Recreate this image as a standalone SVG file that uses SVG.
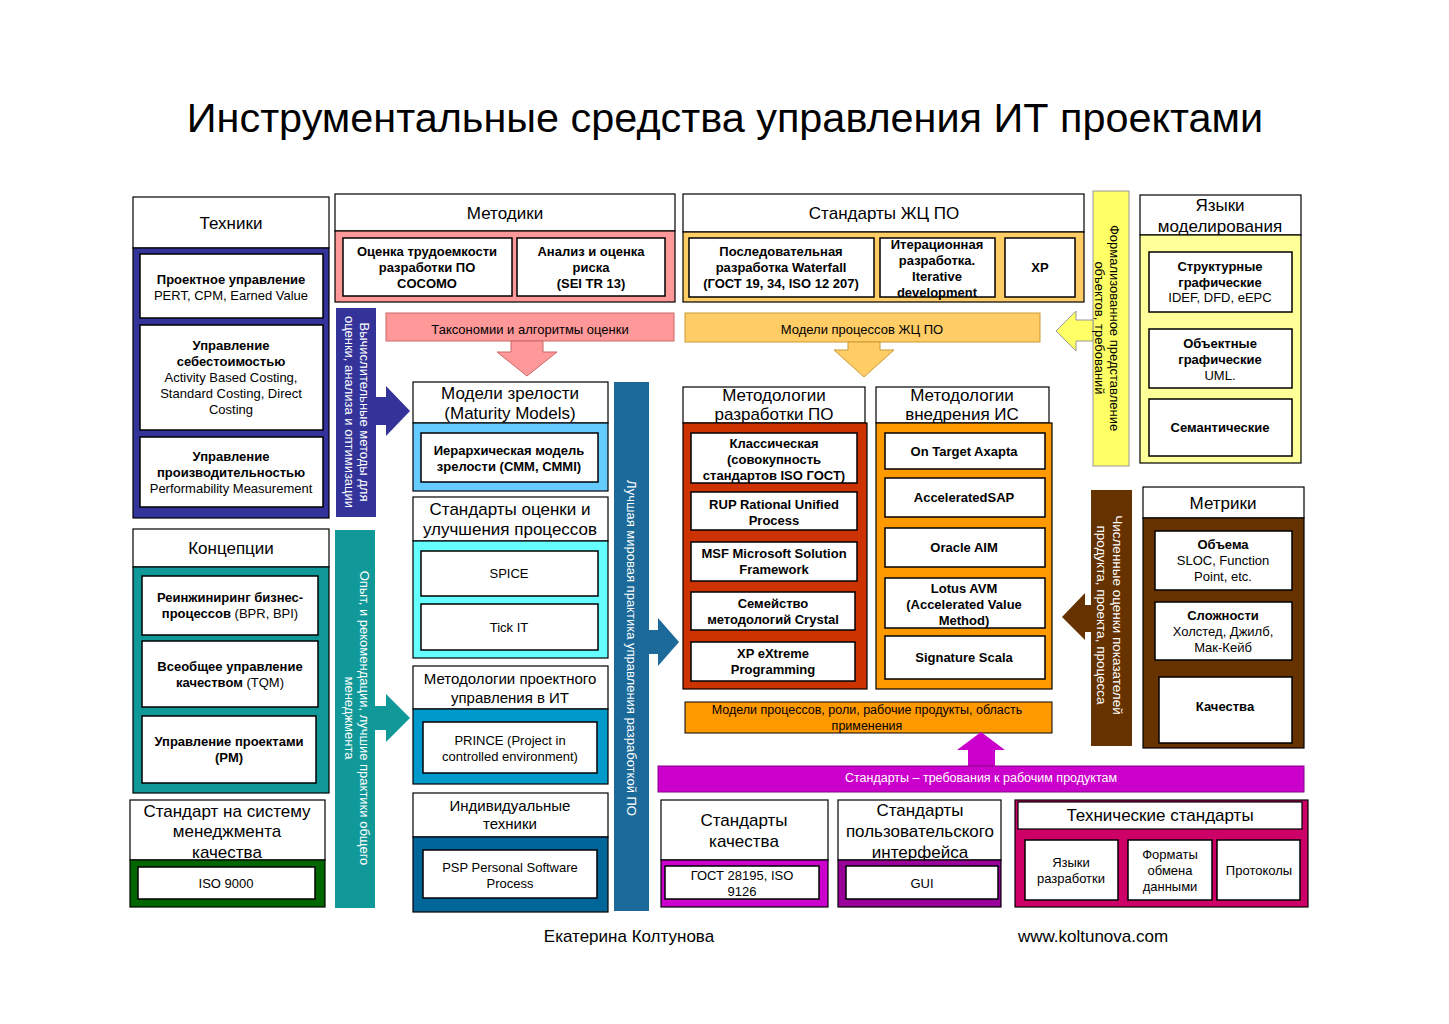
<svg xmlns="http://www.w3.org/2000/svg" width="1449" height="1024" viewBox="0 0 1449 1024">
<style>
text{font-family:"Liberation Sans",Arial,"DejaVu Sans",sans-serif;text-anchor:middle;fill:#000}
.hd{fill:#fff;stroke:#000;stroke-width:1.2}
.bx{fill:#fff;stroke:#000;stroke-width:1.5}
.fr{stroke:#000;stroke-width:1.2}
.h{font-size:17px}
.m{font-size:15px}
.s{font-size:13px}
.xs{font-size:12.5px}
.b{font-weight:bold}
.w{fill:#fff}
.ft{font-size:17px}
</style>
<rect width="1449" height="1024" fill="#fff"/>
<text x="725" y="132" style="font-size:41.4px">Инструментальные средства управления ИТ проектами</text>

<g id="tehniki">
<rect class="hd" x="133" y="197" width="196" height="51"/>
<rect class="fr" x="133" y="248" width="196" height="270" fill="#333399"/>
<text class="h" x="231" y="229">Техники</text>
<rect class="bx" x="140" y="254" width="183" height="64"/>
<text class="s" x="231" y="284"><tspan class="b">Проектное управление</tspan><tspan x="231" dy="16">PERT, CPM, Earned Value</tspan></text>
<rect class="bx" x="140" y="325" width="183" height="105"/>
<text class="s" x="231" y="350"><tspan class="b">Управление</tspan><tspan class="b" x="231" dy="16">себестоимостью</tspan><tspan x="231" dy="16">Activity Based Costing,</tspan><tspan x="231" dy="16">Standard Costing, Direct</tspan><tspan x="231" dy="16">Costing</tspan></text>
<rect class="bx" x="140" y="437" width="183" height="70"/>
<text class="s" x="231" y="461"><tspan class="b">Управление</tspan><tspan class="b" x="231" dy="16">производительностью</tspan><tspan x="231" dy="16">Performability Measurement</tspan></text>
</g>

<g id="koncepcii">
<rect class="hd" x="133" y="529" width="196" height="38"/>
<rect class="fr" x="133" y="567" width="196" height="226" fill="#119999"/>
<text class="h" x="231" y="554">Концепции</text>
<rect class="bx" x="142" y="576" width="176" height="59"/>
<text class="s" x="230" y="602"><tspan class="b">Реинжиниринг бизнес-</tspan><tspan x="230" dy="16"><tspan class="b">процессов</tspan> (BPR, BPI)</tspan></text>
<rect class="bx" x="142" y="641" width="176" height="66"/>
<text class="s" x="230" y="671"><tspan class="b">Всеобщее управление</tspan><tspan x="230" dy="16"><tspan class="b">качеством</tspan> (TQM)</tspan></text>
<rect class="bx" x="142" y="716" width="174" height="67"/>
<text class="s b" x="229" y="746">Управление проектами<tspan x="229" dy="16">(PM)</tspan></text>
</g>

<g id="iso">
<rect class="hd" x="130" y="800" width="195" height="60"/>
<rect class="fr" x="130" y="860" width="195" height="47" fill="#006600"/>
<text class="h" x="227" y="817">Стандарт на систему<tspan x="227" dy="20">менеджмента</tspan><tspan x="227" dy="21">качества</tspan></text>
<rect class="bx" x="138" y="867" width="177" height="32"/>
<text class="s" x="226" y="888">ISO 9000</text>
</g>

<g id="metodiki">
<rect class="hd" x="335" y="194" width="340" height="37"/>
<rect class="fr" x="335" y="231" width="340" height="71" fill="#ff9999"/>
<text class="h" x="505" y="219">Методики</text>
<rect class="bx" x="343" y="238" width="169" height="58"/>
<text class="s b" x="427" y="256">Оценка трудоемкости<tspan x="427" dy="16">разработки ПО</tspan><tspan x="427" dy="16">COCOMO</tspan></text>
<rect class="bx" x="517" y="238" width="148" height="58"/>
<text class="s b" x="591" y="256">Анализ и оценка<tspan x="591" dy="16">риска</tspan><tspan x="591" dy="16">(SEI TR 13)</tspan></text>
</g>

<g id="standarty-zhc">
<rect class="hd" x="683" y="194" width="401" height="38"/>
<rect class="fr" x="683" y="232" width="401" height="70" fill="#ffcc66"/>
<text class="h" x="884" y="219">Стандарты ЖЦ ПО</text>
<rect class="bx" x="689" y="238" width="185" height="59"/>
<text class="s b" x="781" y="256">Последовательная<tspan x="781" dy="16">разработка Waterfall</tspan><tspan x="781" dy="16">(ГОСТ 19, 34, ISO 12 207)</tspan></text>
<rect class="bx" x="880" y="238" width="115" height="59"/>
<text class="s b" x="937" y="249">Итерационная<tspan x="937" dy="16">разработка.</tspan><tspan x="937" dy="16">Iterative</tspan><tspan x="937" dy="16">development</tspan></text>
<rect class="bx" x="1005" y="238" width="70" height="59"/>
<text class="s b" x="1040" y="272">XP</text>
</g>

<g id="yazyki">
<rect class="hd" x="1140" y="195" width="161" height="40"/>
<rect class="fr" x="1140" y="235" width="161" height="228" fill="#ffff99"/>
<text class="h" x="1220" y="211">Языки<tspan x="1220" dy="21">моделирования</tspan></text>
<rect class="bx" x="1149" y="252" width="143" height="60"/>
<text class="s" x="1220" y="271"><tspan class="b">Структурные</tspan><tspan class="b" x="1220" dy="16">графические</tspan><tspan x="1220" dy="15">IDEF, DFD, eEPC</tspan></text>
<rect class="bx" x="1149" y="329" width="143" height="59"/>
<text class="s" x="1220" y="348"><tspan class="b">Объектные</tspan><tspan class="b" x="1220" dy="16">графические</tspan><tspan x="1220" dy="16">UML.</tspan></text>
<rect class="bx" x="1149" y="399" width="143" height="57"/>
<text class="s b" x="1220" y="432">Семантические</text>
</g>

<g id="modeli-zrelosti">
<rect class="hd" x="413" y="382" width="195" height="41"/>
<rect class="fr" x="413" y="423" width="195" height="68" fill="#66ccff"/>
<text class="h" x="510" y="399">Модели зрелости<tspan x="510" dy="20">(Maturity Models)</tspan></text>
<rect class="bx" x="421" y="433" width="177" height="49"/>
<text class="s b" x="509" y="455">Иерархическая модель<tspan x="509" dy="16">зрелости (CMM, CMMI)</tspan></text>
</g>

<g id="standarty-ocenki">
<rect class="hd" x="413" y="497" width="195" height="44"/>
<rect class="fr" x="413" y="541" width="195" height="117" fill="#66ffff"/>
<text class="h" x="510" y="515">Стандарты оценки и<tspan x="510" dy="20">улучшения процессов</tspan></text>
<rect class="bx" x="421" y="551" width="177" height="45"/>
<text class="s" x="509" y="578">SPICE</text>
<rect class="bx" x="421" y="604" width="177" height="46"/>
<text class="s" x="509" y="632">Tick IT</text>
</g>

<g id="metodologii-pu">
<rect class="hd" x="413" y="666" width="195" height="43"/>
<rect class="fr" x="413" y="709" width="195" height="75" fill="#0099cc"/>
<text class="m" x="510" y="684">Методологии проектного<tspan x="510" dy="19">управления в ИТ</tspan></text>
<rect class="bx" x="423" y="722" width="174" height="51"/>
<text class="s" x="510" y="745">PRINCE (Project in<tspan x="510" dy="16">controlled environment)</tspan></text>
</g>

<g id="individualnye">
<rect class="hd" x="413" y="793" width="195" height="44"/>
<rect class="fr" x="413" y="837" width="195" height="75" fill="#006699"/>
<text class="m" x="510" y="811">Индивидуальные<tspan x="510" dy="18">техники</tspan></text>
<rect class="bx" x="423" y="850" width="174" height="48"/>
<text class="s" x="510" y="872">PSP Personal Software<tspan x="510" dy="16">Process</tspan></text>
</g>

<g id="metodologii-razrabotki">
<rect class="hd" x="683" y="387" width="182" height="36"/>
<rect class="fr" x="683" y="423" width="184" height="266" fill="#cc3300"/>
<text class="h" x="774" y="401">Методологии<tspan x="774" dy="19">разработки ПО</tspan></text>
<rect class="bx" x="691" y="433" width="166" height="50"/>
<text class="s b" x="774" y="448">Классическая<tspan x="774" dy="16">(совокупность</tspan><tspan x="774" dy="16">стандартов ISO ГОСТ)</tspan></text>
<rect class="bx" x="691" y="492" width="166" height="38"/>
<text class="s b" x="774" y="509">RUP Rational Unified<tspan x="774" dy="16">Process</tspan></text>
<rect class="bx" x="691" y="542" width="166" height="39"/>
<text class="s b" x="774" y="558">MSF Microsoft Solution<tspan x="774" dy="16">Framework</tspan></text>
<rect class="bx" x="691" y="592" width="164" height="38"/>
<text class="s b" x="773" y="608">Семейство<tspan x="773" dy="16">методологий Crystal</tspan></text>
<rect class="bx" x="691" y="642" width="164" height="39"/>
<text class="s b" x="773" y="658">XP eXtreme<tspan x="773" dy="16">Programming</tspan></text>
</g>

<g id="metodologii-vnedreniya">
<rect class="hd" x="876" y="387" width="173" height="36"/>
<rect class="fr" x="876" y="423" width="176" height="266" fill="#ff9900"/>
<text class="h" x="962" y="401">Методологии<tspan x="962" dy="19">внедрения ИС</tspan></text>
<rect class="bx" x="885" y="433" width="160" height="36"/>
<text class="s b" x="964" y="456">On Target Axapta</text>
<rect class="bx" x="885" y="478" width="160" height="39"/>
<text class="s b" x="964" y="502">AcceleratedSAP</text>
<rect class="bx" x="885" y="528" width="160" height="39"/>
<text class="s b" x="964" y="552">Oracle AIM</text>
<rect class="bx" x="885" y="578" width="160" height="50"/>
<text class="s b" x="964" y="593">Lotus AVM<tspan x="964" dy="16">(Accelerated Value</tspan><tspan x="964" dy="16">Method)</tspan></text>
<rect class="bx" x="885" y="636" width="160" height="43"/>
<text class="s b" x="964" y="662">Signature Scala</text>
</g>

<g id="metriki">
<rect class="hd" x="1143" y="487" width="161" height="31"/>
<rect class="fr" x="1143" y="518" width="161" height="230" fill="#663300"/>
<text class="h" x="1223" y="509">Метрики</text>
<rect class="bx" x="1155" y="531" width="137" height="59"/>
<text class="s" x="1223" y="549"><tspan class="b">Объема</tspan><tspan x="1223" dy="16">SLOC, Function</tspan><tspan x="1223" dy="16">Point, etc.</tspan></text>
<rect class="bx" x="1155" y="602" width="137" height="58"/>
<text class="s" x="1223" y="620"><tspan class="b">Сложности</tspan><tspan x="1223" dy="16">Холстед, Джилб,</tspan><tspan x="1223" dy="16">Мак-Кейб</tspan></text>
<rect class="bx" x="1159" y="677" width="133" height="66"/>
<text class="s b" x="1225" y="711">Качества</text>
</g>

<g id="standarty-kachestva">
<rect class="hd" x="661" y="800" width="167" height="60"/>
<rect class="fr" x="661" y="860" width="167" height="47" fill="#cc00cc"/>
<text class="h" x="744" y="826">Стандарты<tspan x="744" dy="21">качества</tspan></text>
<rect class="bx" x="665" y="866" width="154" height="33"/>
<text class="s" x="742" y="880">ГОСТ 28195, ISO<tspan x="742" dy="16">9126</tspan></text>
</g>

<g id="standarty-ui">
<rect class="hd" x="838" y="800" width="163" height="60"/>
<rect class="fr" x="838" y="860" width="163" height="47" fill="#990099"/>
<text class="h" x="920" y="816">Стандарты<tspan x="920" dy="21">пользовательского</tspan><tspan x="920" dy="21">интерфейса</tspan></text>
<rect class="bx" x="846" y="866" width="152" height="33"/>
<text class="s" x="922" y="888">GUI</text>
</g>

<g id="tehnicheskie">
<rect class="fr" x="1015" y="800" width="293" height="107" fill="#cc0066"/>
<rect class="hd" x="1018" y="802" width="284" height="27"/>
<text class="h" x="1160" y="821">Технические стандарты</text>
<rect class="bx" x="1025" y="840" width="93" height="60"/>
<text class="s" x="1071" y="867">Языки<tspan x="1071" dy="16">разработки</tspan></text>
<rect class="bx" x="1128" y="840" width="84" height="60"/>
<text class="s" x="1170" y="859">Форматы<tspan x="1170" dy="16">обмена</tspan><tspan x="1170" dy="16">данными</tspan></text>
<rect class="bx" x="1217" y="840" width="83" height="60"/>
<text class="s" x="1259" y="875">Протоколы</text>
</g>

<g id="connectors">
<g id="taksonomii">
<rect x="386" y="313" width="288" height="28" fill="#ff9999" stroke="#c66" stroke-width="1"/>
<text class="s" x="530" y="334">Таксономии и алгоритмы оценки</text>
<polygon points="511,341 543,341 543,352 557,352 527,376 497,352 511,352" fill="#ff9999" stroke="#c66" stroke-width="1"/>
</g>
<g id="modeli-zhc">
<rect x="685" y="313" width="355" height="29" fill="#ffcc66" stroke="#c93" stroke-width="1"/>
<text class="s" x="862" y="334">Модели процессов ЖЦ ПО</text>
<polygon points="848,342 880,342 880,350 894,350 864,377 834,350 848,350" fill="#ffcc66" stroke="#c93" stroke-width="1"/>
</g>
<g id="formalizovannoe">
<rect x="1093" y="191" width="36" height="275" fill="#ffff66" stroke="#999" stroke-width="1"/>
<polygon points="1093,320 1076,320 1076,311 1056,331 1076,351 1076,341 1093,341" fill="#ffff66" stroke="#999" stroke-width="1"/>
<text class="s" transform="translate(1110,328) rotate(90)">Формализованное представление</text>
<text class="s" transform="translate(1095,328) rotate(90)">объектов, требований</text>
</g>
<g id="vychislitelnye">
<rect x="336" y="308" width="40" height="209" fill="#333399"/>
<polygon points="375,397 386,397 386,386 410,411 386,436 386,425 375,425" fill="#333399"/>
<text class="s w" transform="translate(360,412) rotate(90)">Вычислительные методы для</text>
<text class="s w" transform="translate(345,412) rotate(90)">оценки, анализа и оптимизации</text>
</g>
<g id="opyt">
<rect x="335" y="530" width="40" height="378" fill="#119999"/>
<polygon points="374,706 386,706 386,694 410,718 386,742 386,730 374,730" fill="#119999"/>
<text class="s w" transform="translate(360,718) rotate(90)">Опыт, и рекомендации, лучшие практики общего</text>
<text class="s w" transform="translate(345,718) rotate(90)">менеджмента</text>
</g>
<g id="luchshaya">
<rect x="614" y="382" width="35" height="529" fill="#1b6a9a"/>
<polygon points="648,630 658,630 658,618 679,642 658,666 658,654 648,654" fill="#1b6a9a"/>
<text class="s w" transform="translate(627,648) rotate(90)">Лучшая мировая практика управления разработкой ПО</text>
</g>
<g id="chislennye">
<rect x="1091" y="490" width="41" height="256" fill="#663300"/>
<polygon points="1092,605 1085,605 1085,593 1062,617 1085,640 1085,632 1092,632" fill="#663300"/>
<text class="w" style="font-size:13.5px" transform="translate(1113,615) rotate(90)">Численные оценки показателей</text>
<text class="w" style="font-size:13.5px" transform="translate(1097,615) rotate(90)">продукта, проекта, процесса</text>
</g>
<g id="modeli-roli">
<rect x="685" y="702" width="367" height="31" fill="#ff9900" stroke="#000" stroke-width="1"/>
<text class="xs" x="867" y="714">Модели процессов, роли, рабочие продукты, область</text>
<text class="xs" x="867" y="730">применения</text>
</g>
<g id="trebovaniya">
<polygon points="968,767 968,750 957,750 981,732 1005,750 995,750 995,767" fill="#cc00cc"/>
<rect x="658" y="766" width="646" height="26" fill="#cc00cc" stroke="#808" stroke-width="1"/>
<text class="xs w" x="981" y="782">Стандарты – требования к рабочим продуктам</text>
</g>
</g>

<text class="ft" x="629" y="942">Екатерина Колтунова</text>
<text class="ft" x="1093" y="942">www.koltunova.com</text>
</svg>
